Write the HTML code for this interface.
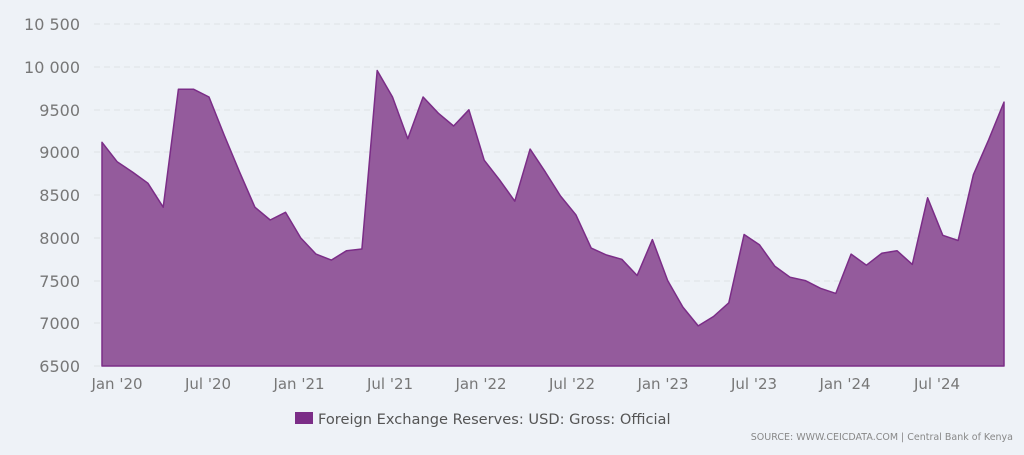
<!DOCTYPE html>
<html><head><style>
body{margin:0;background:#eef2f7;}
svg{display:block;font-family:"DejaVu Sans","Liberation Sans",sans-serif;}
</style></head><body>
<svg width="1024" height="455" viewBox="0 0 1024 455">
<rect width="1024" height="455" fill="#eef2f7"/>
<g stroke="#dde1e6" stroke-dasharray="6,4" stroke-width="1">
<line x1="94" x2="1004" y1="24" y2="24"/><line x1="94" x2="1004" y1="67" y2="67"/>
<line x1="94" x2="1004" y1="110" y2="110"/><line x1="94" x2="1004" y1="152" y2="152"/>
<line x1="94" x2="1004" y1="195" y2="195"/><line x1="94" x2="1004" y1="238" y2="238"/>
<line x1="94" x2="1004" y1="281" y2="281"/><line x1="94" x2="1004" y1="323" y2="323"/>
<line x1="94" x2="1004" y1="366" y2="366"/>
</g>
<g font-size="16" fill="#777" text-anchor="end">
<text x="80" y="30">10 500</text><text x="80" y="73">10 000</text>
<text x="80" y="116">9500</text><text x="80" y="158">9000</text>
<text x="80" y="201">8500</text><text x="80" y="244">8000</text>
<text x="80" y="287">7500</text><text x="80" y="329">7000</text>
<text x="80" y="372">6500</text>
</g>
<path id="area" fill="#945b9c" stroke="#7b2d87" stroke-width="1.5" stroke-linejoin="round"/>
<g font-size="15" fill="#777" text-anchor="middle">
<text x="117" y="389">Jan '20</text><text x="208" y="389">Jul '20</text>
<text x="299" y="389">Jan '21</text><text x="390" y="389">Jul '21</text>
<text x="481" y="389">Jan '22</text><text x="572" y="389">Jul '22</text>
<text x="663" y="389">Jan '23</text><text x="754" y="389">Jul '23</text>
<text x="845" y="389">Jan '24</text><text x="937" y="389">Jul '24</text>
</g>
<rect x="295" y="412" width="18" height="12" fill="#7b2d87"/>
<text x="318" y="424" font-size="14.6" fill="#555">Foreign Exchange Reserves: USD: Gross: Official</text>
<text x="1013" y="440" font-size="9.5" fill="#888" text-anchor="end">SOURCE: WWW.CEICDATA.COM | Central Bank of Kenya</text>
</svg>
<script>
var v=[9120,8890,8770,8640,8360,9740,9740,9650,9200,8770,8360,8210,8300,8000,7810,7740,7850,7870,9960,9650,9160,9650,9460,9310,9500,8910,8680,8430,9040,8770,8490,8270,7880,7800,7750,7560,7980,7500,7190,6970,7080,7240,8040,7920,7670,7540,7500,7410,7350,7810,7680,7820,7850,7690,8470,8030,7970,8740,9150,9590];
var d="M102,366";
for(var i=0;i<v.length;i++){var x=102+i*902/59;var y=366-(v[i]-6500)*42.7/500;d+=" L"+x.toFixed(1)+","+y.toFixed(1);}
d+=" L1004,366 Z";
document.getElementById("area").setAttribute("d",d);
</script>
</body></html>
